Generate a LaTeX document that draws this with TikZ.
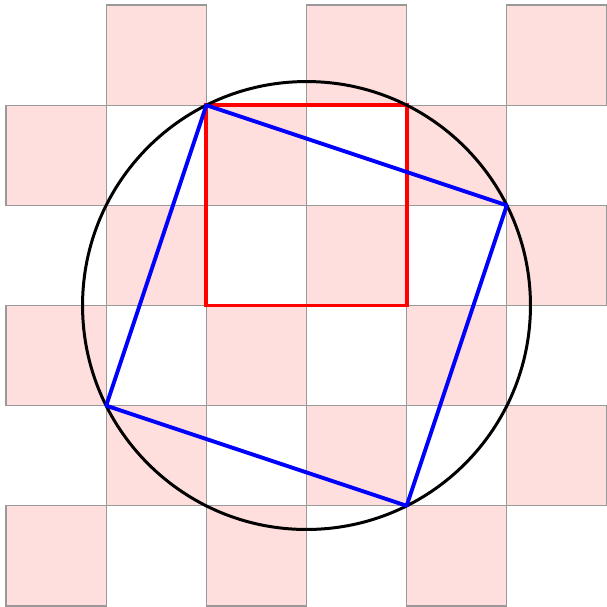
\documentclass[tikz,border=0pt]{standalone}
\begin{document}
\begin{tikzpicture}[
  cell/.style={fill=red!13, draw=black!40, line width=0.3pt},
  bluesq/.style={draw=blue, line width=1.1pt, line join=round},
  redsq/.style={draw=red, line width=1.1pt},
  circ/.style={draw=black, line width=0.85pt}]
\useasboundingbox (-0.06,0) rectangle (6,6.05);
\foreach \i in {0,...,5}{
  \foreach \j in {0,...,5}{
    \pgfmathtruncatemacro{\s}{mod(\i+\j,2)}
    \ifnum\s=0
      \path[cell] (\i,\j) rectangle ++(1,1);
    \fi
  }
}
\coordinate (A) at (2,5);
\coordinate (B) at (5,4);
\coordinate (C) at (4,1);
\coordinate (D) at (1,2);
\coordinate (O) at (3,3);
\coordinate (R1) at (2,3);
\coordinate (R2) at (4,5);
\draw[redsq] (R1) rectangle (R2);
\draw[circ] (O) circle ({sqrt(5)});
\draw[bluesq] (A) -- (B) -- (C) -- (D) -- cycle;
\end{tikzpicture}
\end{document}
